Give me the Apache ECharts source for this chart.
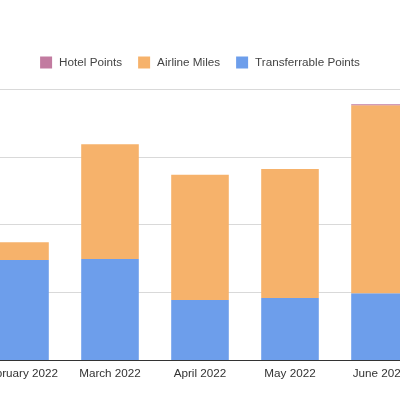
<!DOCTYPE html>
<html>
<head>
<meta charset="utf-8">
<script src="https://cdn.jsdelivr.net/npm/echarts@6/dist/echarts.min.js"></script>
<style>
  html, body { margin: 0; padding: 0; background: #fff; }
  #chart { width: 400px; height: 400px; }
</style>
</head>
<body>
<div id="chart"></div>
<script>
// data
var months = ["February 2022", "March 2022", "April 2022", "May 2022", "June 2022"];
var transferrable = [73900, 74600, 44300, 45800, 49300];
var airline = [13100, 84800, 92600, 95300, 138900];
var hotel = [0, 0, 0, 0, 800];

var myChart = echarts.init(document.getElementById("chart"));

var option = {
  animation: false,
  textStyle: { fontFamily: "Liberation Sans" },
  legend: {
    top: 51.5,
    left: "center",
    itemWidth: 12,
    itemHeight: 12,
    itemGap: 16,
    icon: "rect",
    data: ["Hotel Points", "Airline Miles", "Transferrable Points"],
    textStyle: { fontSize: 11.7, color: "#444", padding: [0, 0, 0, 2] }
  },
  // the plot runs past both edges of the picture
  grid: { left: -25, right: -25, top: 89.3, bottom: 40, containLabel: false, outerBoundsMode: "none" },
  xAxis: {
    type: "category",
    data: months,
    axisTick: { show: false },
    axisLine: { lineStyle: { color: "#333" } },
    axisLabel: { interval: 0, fontSize: 11.7, color: "#333", margin: 8 }
  },
  yAxis: {
    type: "value",
    min: 0,
    max: 200000,
    interval: 50000,
    axisLabel: { show: false },
    axisLine: { show: false },
    axisTick: { show: false },
    splitLine: { lineStyle: { color: "#d9d9d9" } }
  },
  series: [
    {
      name: "Transferrable Points",
      type: "bar",
      stack: "all",
      barWidth: "64%",
      itemStyle: { color: "#6d9eeb" },
      data: transferrable
    },
    {
      name: "Airline Miles",
      type: "bar",
      stack: "all",
      itemStyle: { color: "#f6b26b" },
      data: airline
    },
    {
      name: "Hotel Points",
      type: "bar",
      stack: "all",
      itemStyle: { color: "#c27ba0" },
      data: hotel
    }
  ]
};

option && myChart.setOption(option);
</script>
</body>
</html>
